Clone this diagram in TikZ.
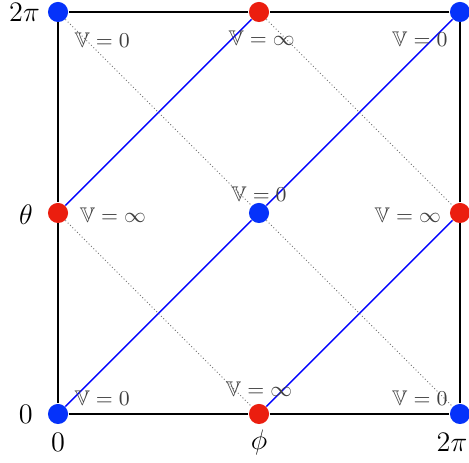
\documentclass[tikz,border=0pt]{standalone}
\usepackage{amsmath,amssymb}
\usetikzlibrary{positioning}
\definecolor{dotblue}{RGB}{5,50,250}
\definecolor{dotred}{RGB}{235,30,15}
\tikzset{
  bdot/.style={circle,fill=dotblue,inner sep=0pt,minimum size=0.3cm},
  rdot/.style={circle,fill=dotred,inner sep=0pt,minimum size=0.3cm},
  frame/.style={thick,black},
  wire/.style={semithick,blue},
  ridge/.style={densely dotted,black!55},
  vlab/.style={font=\small,black!75},
  axlab/.style={font=\large},
}

\begin{document}
\begin{tikzpicture}
    \useasboundingbox (-0.866,-0.731) rectangle (6.134,6.179);

    % grid points, blue = V=0, red = V=infinity
    \foreach \n/\x/\y in {00/0/0,20/6/0,11/3/3,02/0/6,22/6/6}
      \node[bdot] (p\n) at (\x,\y) {};
    \foreach \n/\x/\y in {10/3/0,01/0/3,21/6/3,12/3/6}
      \node[rdot] (p\n) at (\x,\y) {};

    \draw[frame] (p00) -- (p10) -- (p20) -- (p21) -- (p22)
                 -- (p12) -- (p02) -- (p01) -- (p00);

    \foreach \a/\b in {00/11,11/22,01/12,10/21}
      \draw[wire] (p\a) -- (p\b);
    \foreach \a/\b in {02/11,11/20,01/10,12/21}
      \draw[ridge] (p\a) -- (p\b);

    \node[vlab] (v00) at (0.66,0.24) {$\mathbb{V}=0$};
    \node[vlab] (v10) at (3.0,0.37) {$\mathbb{V}=\infty$};
    \node[vlab] (v20) at (5.40,0.24) {$\mathbb{V}=0$};
    \node[vlab] (v01) at (0.82,2.97) {$\mathbb{V}=\infty$};
    \node[vlab] (v11) at (3.0,3.28) {$\mathbb{V}=0$};
    \node[vlab] (v21) at (5.22,2.97) {$\mathbb{V}=\infty$};
    \node[vlab] (v02) at (0.66,5.58) {$\mathbb{V}=0$};
    \node[vlab] (v12) at (3.04,5.61) {$\mathbb{V}=\infty$};
    \node[vlab] (v22) at (5.40,5.60) {$\mathbb{V}=0$};

    \node[axlab] (y0) at (-0.48,0) {$0$};
    \node[axlab] (yt) at (-0.48,2.97) {$\theta$};
    \node[axlab] (y2) at (-0.50,6.0) {$2\pi$};
    \node[axlab] (x0) at (0,-0.42) {$0$};
    \node[axlab] (xp) at (3,-0.42) {$\phi$};
    \node[axlab] (x2) at (5.88,-0.42) {$2\pi$};

  \end{tikzpicture}
\end{document}
